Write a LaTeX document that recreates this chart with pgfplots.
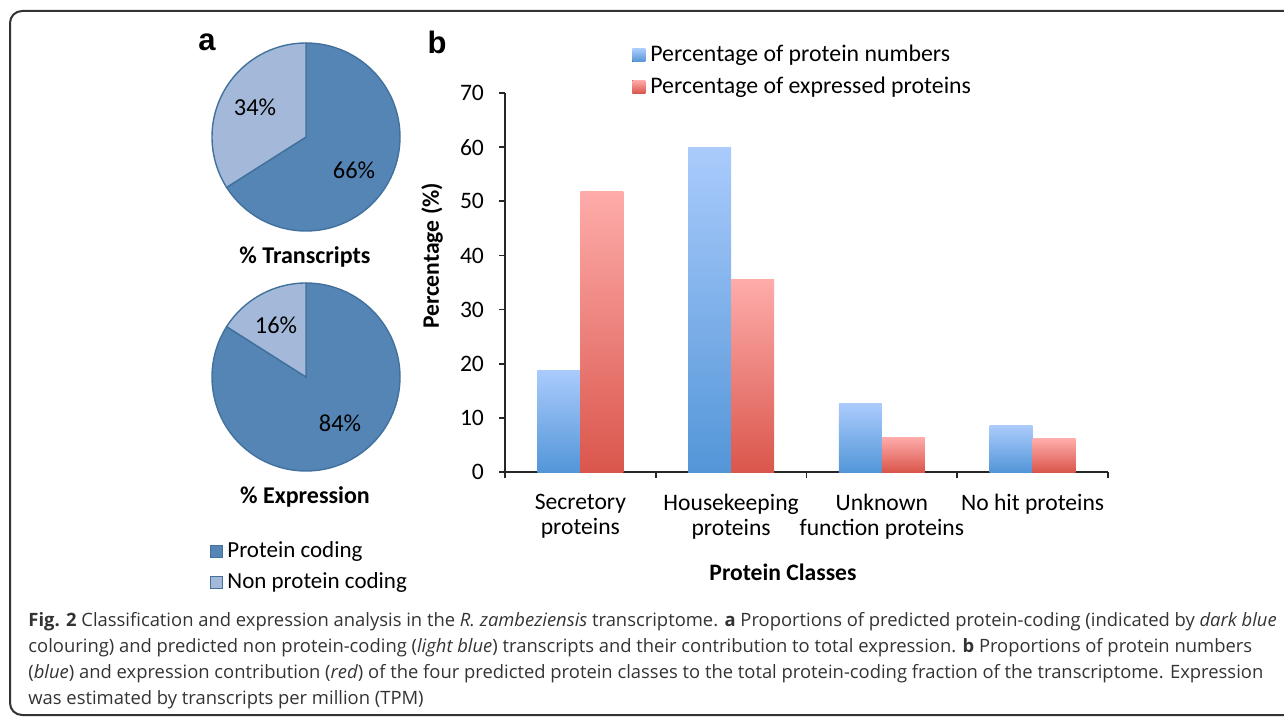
\documentclass[border=0pt]{standalone}
\usepackage{fontspec}
\setmainfont{Carlito}
\newfontfamily\capfont{Open Sans}
\newfontfamily\panelfont{Liberation Sans}
\usepackage{pgfplots}
\pgfplotsset{compat=1.18}
\definecolor{bluetop}{HTML}{AACBFC}
\definecolor{bluebot}{HTML}{5396D8}
\definecolor{redtop}{HTML}{FEACAA}
\definecolor{redbot}{HTML}{DA564C}
\definecolor{pdark}{HTML}{5585B5}
\definecolor{plight}{HTML}{A4B9DA}
\definecolor{pedge}{HTML}{41719C}
\definecolor{captext}{HTML}{333333}
% pie values (%)
\def\pTa{66}\def\pTb{34}
\def\pEa{84}\def\pEb{16}
\pgfmathsetmacro\aTa{-3.6*\pTa}\pgfmathsetmacro\aTb{3.6*\pTb}
\pgfmathsetmacro\aEa{-3.6*\pEa}\pgfmathsetmacro\aEb{3.6*\pEb}
\newcommand{\chartfont}{\fontsize{11.8}{12.5}\selectfont}
\newcommand{\piefont}{\fontsize{11.5}{13}\selectfont}
\newcommand{\pielab}{\fontsize{12.2}{13}\selectfont}
\pgfplotsset{pieaxis/.style={anchor=center, hide axis, scale only axis, disabledatascaling,
  width=94pt, height=94pt, xmin=-1, xmax=1, ymin=-1, ymax=1, clip=false},
  bluebar/.style={ybar, bar width=21.5pt, bar shift=-10.75pt, draw=none, top color=bluetop, bottom color=bluebot},
  redbar/.style={ybar, bar width=21.5pt, bar shift=10.75pt, draw=none, top color=redtop, bottom color=redbot}}
\begin{document}
\begin{tikzpicture}
\begin{scope}[x=0.5pt,y=0.5pt]
\useasboundingbox (0,0) rectangle (1284,718);
\begin{scope}
\clip (0,0) rectangle (1284,718);
\draw[line width=1pt, color=black!80, rounded corners=6pt] (10,3) rectangle (1320,707);
\end{scope}
\end{scope}

% ---------- pie: transcripts ----------
\begin{axis}[pieaxis, at={(153pt,290.5pt)}]
\addplot[draw=none, forget plot] coordinates {(-1,-1) (1,1)};
\fill[pdark, draw=pedge, line width=0.7pt] (axis cs:0,0) -- (axis cs:0,1)
  arc[start angle=90, delta angle=\aTa, x radius=47pt, y radius=47pt] -- cycle;
\fill[plight, draw=pedge, line width=0.7pt] (axis cs:0,0) -- (axis cs:0,1)
  arc[start angle=90, delta angle=\aTb, x radius=47pt, y radius=47pt] -- cycle;
\end{axis}
% ---------- pie: expression ----------
\begin{axis}[pieaxis, at={(153pt,170.5pt)}]
\addplot[draw=none, forget plot] coordinates {(-1,-1) (1,1)};
\fill[pdark, draw=pedge, line width=0.7pt] (axis cs:0,0) -- (axis cs:0,1)
  arc[start angle=90, delta angle=\aEa, x radius=47pt, y radius=47pt] -- cycle;
\fill[plight, draw=pedge, line width=0.7pt] (axis cs:0,0) -- (axis cs:0,1)
  arc[start angle=90, delta angle=\aEb, x radius=47pt, y radius=47pt] -- cycle;
\end{axis}

\begin{scope}[x=0.5pt,y=0.5pt]
\node[font=\pielab] at (255,611) {34\%};
\node[font=\pielab] at (354,548) {66\%};
\node[font=\pielab] at (276,393) {16\%};
\node[font=\pielab] at (340,295) {84\%};
\node[font=\fontsize{12}{13}\selectfont\bfseries] at (305,461) {\% Transcripts};
\node[font=\fontsize{12}{13}\selectfont\bfseries] at (305,221) {\% Expression};

\fill[pdark, draw=pedge, line width=0.5pt] (210,161) rectangle (222,173);
\node[font=\piefont, anchor=west, inner sep=0pt] at (227,167) {Protein coding};
\fill[plight, draw=pedge, line width=0.5pt] (210,130) rectangle (222,142);
\node[font=\piefont, anchor=west, inner sep=0pt] at (227,136) {Non protein coding};

\node[font=\panelfont\fontsize{15.5}{15}\selectfont\bfseries] at (207,676) {a};
\node[font=\panelfont\fontsize{15.5}{15}\selectfont\bfseries] at (437,676) {b};
\end{scope}

% ---------- bar chart ----------
\begin{axis}[at={(252.5pt,123pt)}, anchor=south west, scale only axis,
  width=301.5pt, height=189.5pt,
  xmin=-0.5, xmax=3.5, ymin=0, ymax=70,
  axis x line*=bottom, axis y line*=left,
  axis line style={line width=0.8pt, black!85},
  every tick/.style={line width=0.8pt, black!85},
  tick align=outside, major tick length=3pt,
  ytick={0,10,...,70},
  /pgf/number format/assume math mode=true,
  ticklabel style={font=\chartfont},
  yticklabel style={xshift=-4pt},
  xtick={-0.5,0.5,1.5,2.5,3.5}, xticklabels={},
  extra x ticks={0,1,2,3},
  extra x tick labels={{Secretory\\proteins},{Housekeeping\\proteins},{Unknown\\function proteins},{No hit proteins}},
  extra x tick style={major tick length=0pt, tick label style={align=center, font=\chartfont, anchor=north, yshift=-7.5pt}},
  xlabel={Protein Classes},
  xlabel style={font=\chartfont\bfseries, at={(axis description cs:0.461,0)}, anchor=center, yshift=-50pt},
  ylabel={Percentage (\%)},
  ylabel style={font=\chartfont\bfseries, at={(axis description cs:-0.121,0.57)}, anchor=center},
  legend style={at={(axis description cs:0.2106,1.1345)}, anchor=north west, draw=none, fill=none,
    inner sep=0pt, row sep=3pt, font=\fontsize{11.9}{13}\selectfont, nodes={inner sep=1.5pt},
    /tikz/every odd column/.append style={column sep=1pt}},
  legend cell align=left,
  legend image code/.code={\fill[#1] (0pt,-3.25pt) rectangle (6.5pt,3.25pt);},
]
\addplot[bluebar] coordinates {(0,18.8)};
\addplot[redbar] coordinates {(0,51.8)};
\addplot[bluebar, forget plot] coordinates {(1,60.0)};
\addplot[bluebar, forget plot] coordinates {(2,12.6)};
\addplot[bluebar, forget plot] coordinates {(3,8.5)};
\addplot[redbar, forget plot] coordinates {(1,35.6)};
\addplot[redbar, forget plot] coordinates {(2,6.4)};
\addplot[redbar, forget plot] coordinates {(3,6.1)};
\legend{Percentage of protein numbers, Percentage of expressed proteins}
\end{axis}

% ---------- caption ----------
\begin{scope}[x=0.5pt,y=0.5pt, every node/.style={anchor=base west, inner sep=0pt, font=\capfont\fontsize{9.2}{11}\selectfont, text=captext}]
\node at (28,92) {\textbf{Fig. 2} Classification and expression analysis in the \textit{R. zambeziensis} transcriptome. \textbf{a} Proportions of predicted protein-coding (indicated by \textit{dark blue}};
\node at (28,66) {colouring) and predicted non protein-coding (\textit{light blue}) transcripts and their contribution to total expression. \textbf{b} Proportions of protein numbers};
\node at (28,40) {(\textit{blue}) and expression contribution (\textit{red}) of the four predicted protein classes to the total protein-coding fraction of the transcriptome. Expression};
\node at (28,14) {was estimated by transcripts per million (TPM)};
\end{scope}
\end{tikzpicture}
\end{document}
